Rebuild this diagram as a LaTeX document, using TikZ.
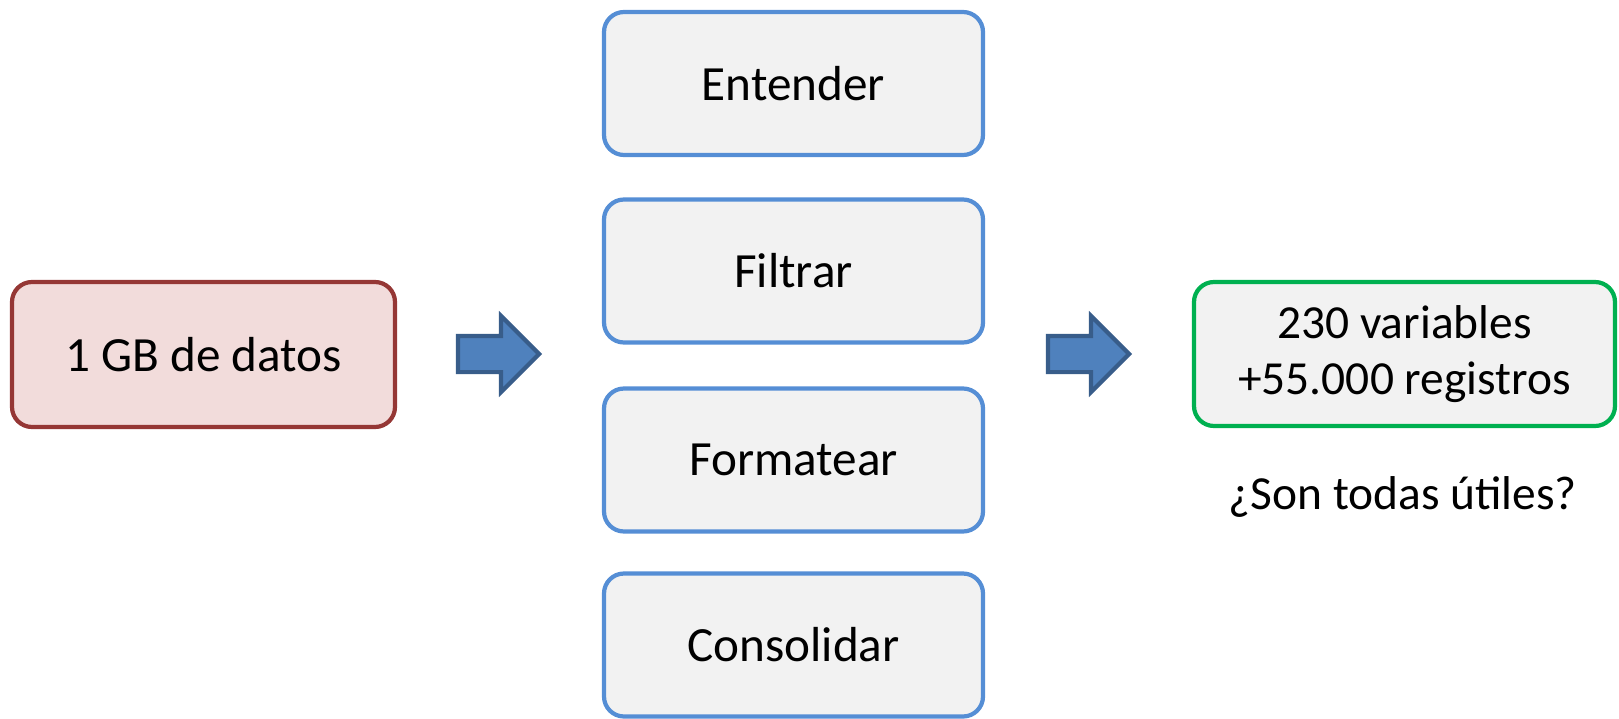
\documentclass[tikz,border=0pt]{standalone}
\usepackage{fontspec}
\setmainfont{Carlito}
\usetikzlibrary{shapes.arrows}

\definecolor{dataRed}{HTML}{953735}
\definecolor{dataRedFill}{HTML}{F2DCDB}
\definecolor{stepBlue}{HTML}{558ED5}
\definecolor{boxGray}{HTML}{F2F2F2}
\definecolor{resGreen}{HTML}{00B050}
\definecolor{arrowFill}{HTML}{4F81BD}
\definecolor{arrowLine}{HTML}{385D8A}

\begin{document}
\begin{tikzpicture}[
    font=\fontsize{14pt}{17pt}\selectfont,
    box/.style={draw, rounded corners=0.2cm, line width=1.2pt, fill=boxGray,
        align=center, inner sep=0pt, minimum width=3.79cm, minimum height=1.43cm},
    stepbox/.style={box, draw=stepBlue},
    bigarrow/.style={single arrow, draw=arrowLine, fill=arrowFill, line width=1.2pt,
        inner xsep=0pt, inner ysep=0.16cm, minimum height=0.81cm,
        single arrow head extend=0.2cm, single arrow tip angle=90}
]
    % Fix the canvas size
    \useasboundingbox (0, 0) rectangle (16.19, 7.18);

    % Input data
    \node[box, draw=dataRed, fill=dataRedFill, minimum width=3.83cm, minimum height=1.45cm]
        (datos) at (2.035, 3.635) {1 GB de datos};

    % Processing steps
    \node[stepbox] (entender)   at (7.935, 6.345) {Entender};
    \node[stepbox] (filtrar)    at (7.935, 4.47)  {Filtrar};
    \node[stepbox] (formatear)  at (7.935, 2.58)  {Formatear};
    \node[stepbox] (consolidar) at (7.935, 0.73)  {Consolidar};

    % Result
    \node[box, draw=resGreen, minimum width=4.21cm, minimum height=1.44cm,
        font=\fontsize{13.5pt}{16pt}\selectfont]
        (resultado) at (14.045, 3.64) {230 variables\\+55.000 registros};
    \node[font=\fontsize{13.5pt}{16pt}\selectfont] (pregunta) at (14.03, 2.21) {¿Son todas útiles?};

    % Block arrows
    \node[bigarrow] (flecha1) at (4.895, 3.64) {};
    \node[bigarrow] (flecha2) at (10.795, 3.64) {};

\end{tikzpicture}
\end{document}
